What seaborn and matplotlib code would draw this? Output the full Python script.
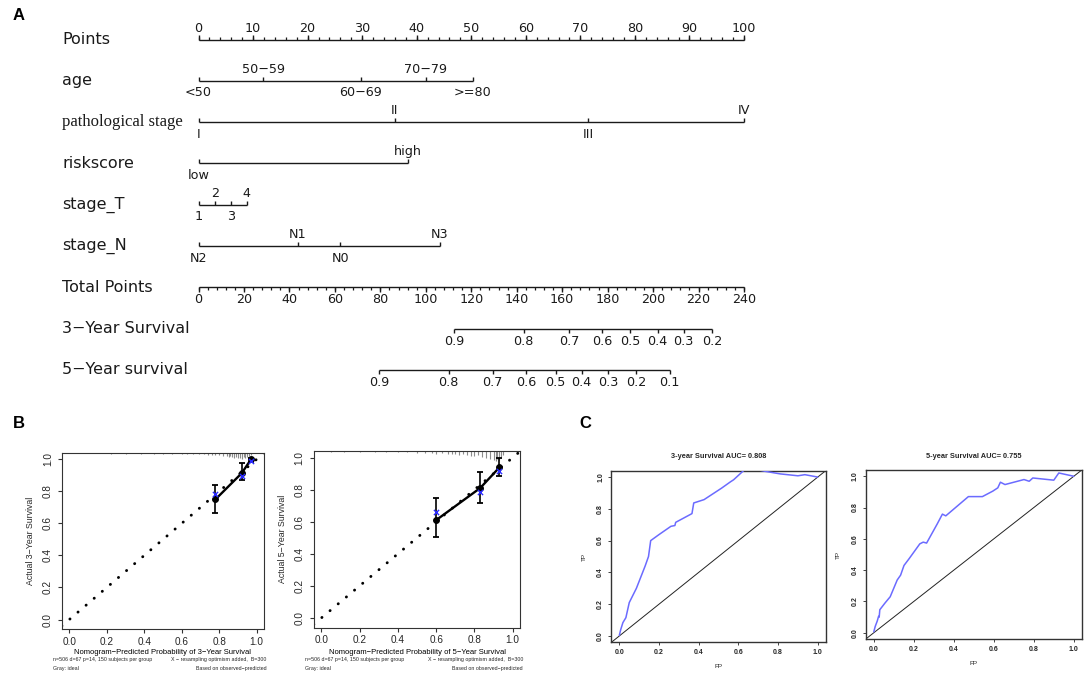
import numpy as np
import matplotlib
matplotlib.use("Agg")
import matplotlib.pyplot as plt
from matplotlib import font_manager
from matplotlib.transforms import blended_transform_factory
import seaborn as sns

sns.set_theme(style="white")
plt.rcParams['font.family'] = ['DejaVu Sans']
plt.rcParams['axes.unicode_minus'] = True

_names = {f.name for f in font_manager.fontManager.ttflist}
SANS = 'Liberation Sans' if 'Liberation Sans' in _names else 'DejaVu Sans'
NARROW = 'Liberation Sans Narrow' if 'Liberation Sans Narrow' in _names else SANS
SERIF = 'Liberation Serif' if 'Liberation Serif' in _names else 'DejaVu Serif'
NARROW_SCALE = 1.0 if NARROW != SANS else 0.84

# ======================= DATA =======================
# Panel A : nomogram (positions in "Points" units, 0-100)
row_names = ["Points", "age", "pathological stage", "riskscore", "stage_T",
             "stage_N", "Total Points", "3−Year Survival", "5−Year survival"]
points_ticks = [0, 10, 20, 30, 40, 50, 60, 70, 80, 90, 100]
points_minor_step = 2
age_levels = ["<50", "50−59", "60−69", "70−79", ">=80"]
age_points = [0, 11.9, 29.7, 41.7, 50.3]
stage_levels = ["I", "II", "III", "IV"]
stage_points = [0, 36.0, 71.4, 100]
risk_levels = ["low", "high"]
risk_points = [0, 38.4]
t_levels = ["1", "2", "3", "4"]
t_points = [0, 3.0, 5.9, 8.8]
n_levels = ["N2", "N1", "N0", "N3"]
n_points = [0, 18.2, 26.0, 44.2]
total_ticks = [0, 20, 40, 60, 80, 100, 120, 140, 160, 180, 200, 220, 240]
total_minor_step = 4
total_max = 240
surv3_labels = ["0.9", "0.8", "0.7", "0.6", "0.5", "0.4", "0.3", "0.2"]
surv3_total = [112.5, 143, 163, 177.5, 190, 202, 213.5, 226]
surv5_labels = ["0.9", "0.8", "0.7", "0.6", "0.5", "0.4", "0.3", "0.2", "0.1"]
surv5_total = [79.6, 110, 129.4, 144.3, 157.2, 168.6, 180.2, 192.4, 207.3]

# Panel B : calibration curves
cal3_pred = [0.78, 0.92, 0.97]
cal3_obs = [0.75, 0.913, 1.0]
cal3_lo = [0.665, 0.87, 0.985]
cal3_hi = [0.84, 0.975, 1.01]
cal3_corr = [0.782, 0.893, 0.99]
cal5_pred = [0.60, 0.83, 0.93]
cal5_obs = [0.61, 0.81, 0.938]
cal5_lo = [0.507, 0.718, 0.887]
cal5_hi = [0.749, 0.907, 1.0]
cal5_corr = [0.66, 0.783, 0.913]
ideal_line = [0.0, 1.0]
rug3_x = [0.22, 0.30, 0.38, 0.45, 0.50, 0.55, 0.60, 0.63, 0.66, 0.69, 0.72, 0.74,
          0.76, 0.78, 0.80, 0.82, 0.84, 0.85, 0.86, 0.87, 0.88, 0.89, 0.90, 0.91,
          0.92, 0.93, 0.94, 0.95, 0.96, 0.97]
rug3_h = [0.005, 0.005, 0.005, 0.006, 0.006, 0.007, 0.008, 0.009, 0.009, 0.010,
          0.010, 0.012, 0.013, 0.014, 0.016, 0.018, 0.020, 0.026, 0.022, 0.028,
          0.032, 0.026, 0.036, 0.030, 0.038, 0.028, 0.033, 0.024, 0.019, 0.013]
rug5_x = [0.05, 0.12, 0.20, 0.28, 0.34, 0.40, 0.45, 0.50, 0.54, 0.58, 0.60, 0.63,
          0.66, 0.68, 0.70, 0.72, 0.74, 0.76, 0.78, 0.80, 0.82, 0.84, 0.86, 0.88,
          0.90, 0.91, 0.92, 0.93, 0.94, 0.95]
rug5_h = [0.005, 0.005, 0.005, 0.006, 0.006, 0.007, 0.008, 0.010, 0.012, 0.014,
          0.016, 0.014, 0.019, 0.017, 0.021, 0.024, 0.019, 0.026, 0.030, 0.034,
          0.028, 0.038, 0.044, 0.050, 0.054, 0.060, 0.048, 0.056, 0.040, 0.024]

# Panel C : ROC curves
roc3_fp = [0.0, 0.007, 0.018, 0.033, 0.05, 0.086, 0.13, 0.147, 0.158, 0.2, 0.26,
           0.28, 0.284, 0.366, 0.375, 0.427, 0.515, 0.56, 0.576, 0.63, 0.70, 0.74,
           0.81, 0.9, 0.935, 1.0]
roc3_tp = [0.004, 0.04, 0.084, 0.115, 0.21, 0.30, 0.44, 0.50, 0.60, 0.638, 0.69,
           0.695, 0.715, 0.77, 0.837, 0.858, 0.93, 0.97, 0.983, 1.045, 1.045, 1.035,
           1.02, 1.008, 1.015, 1.0]
roc5_fp = [0.0, 0.007, 0.017, 0.024, 0.027, 0.03, 0.056, 0.082, 0.117, 0.134, 0.151,
           0.177, 0.23, 0.247, 0.264, 0.317, 0.343, 0.36, 0.473, 0.543, 0.595, 0.62,
           0.633, 0.656, 0.751, 0.777, 0.795, 0.9, 0.925, 1.0]
roc5_tp = [0.006, 0.04, 0.074, 0.105, 0.1, 0.147, 0.19, 0.23, 0.337, 0.368, 0.43,
           0.474, 0.568, 0.579, 0.573, 0.695, 0.758, 0.747, 0.87, 0.87, 0.905, 0.926,
           0.962, 0.947, 0.979, 0.968, 0.989, 0.975, 1.021, 1.0]
auc3 = 0.808
auc5 = 0.755
axis_ticks = [0.0, 0.2, 0.4, 0.6, 0.8, 1.0]

# ======================= FIGURE =======================
W, H = 1084, 676
fig = plt.figure(figsize=(W / 100, H / 100), dpi=100)
fig.patch.set_facecolor('white')

# ---------- Panel A ----------
PX0, PXU = 198.5, 5.455          # pixel of 0 points, pixels per point
axA = fig.add_axes([0, 0, 1, 1])
axA.set_xlim(-PX0 / PXU, (W - PX0) / PXU)
axA.set_ylim(H, 0)
axA.axis('off')
lblT = blended_transform_factory(fig.transFigure, axA.transData)

row_y = [39.5 + 41.3 * i for i in range(len(row_names))]
LC = '#1a1a1a'
LAB_FS = 11.5
TICK_FS = 9.2

for name, y in zip(row_names, row_y):
    if name == "pathological stage":
        axA.text(62 / W, y, name, transform=lblT, ha='left', va='center',
                 fontsize=12, family=SERIF, color=LC)
    else:
        axA.text(62 / W, y, name, transform=lblT, ha='left', va='center',
                 fontsize=LAB_FS, color=LC)


def scale_line(y, xs):
    axA.plot([min(xs), max(xs)], [y, y], color=LC, lw=1.0, solid_capstyle='butt')


# Points row
y = row_y[0]
scale_line(y, points_ticks)
minor = np.arange(points_ticks[0], points_ticks[-1] + 0.01, points_minor_step)
axA.vlines(minor, y - 3, y, color=LC, lw=0.9)
axA.vlines(points_ticks, y - 5, y, color=LC, lw=1.0)
for v in points_ticks:
    axA.text(v, y - 11.5, str(v), ha='center', va='center', fontsize=TICK_FS, color=LC)

# categorical rows
for (levels, pts), y in zip([(age_levels, age_points), (stage_levels, stage_points),
                             (risk_levels, risk_points), (t_levels, t_points),
                             (n_levels, n_points)], row_y[1:6]):
    scale_line(y, pts)
    axA.vlines(pts, y - 4, y, color=LC, lw=1.0)
    for i, (lab, p) in enumerate(zip(levels, pts)):
        dy = 12 if i % 2 == 0 else -11.5
        axA.text(p, y + dy, lab, ha='center', va='center', fontsize=TICK_FS, color=LC)

# Total points row
y = row_y[6]
k = 100 / total_max
tt = [t * k for t in total_ticks]
scale_line(y, tt)
minor = np.arange(0, total_max + 0.01, total_minor_step) * k
axA.vlines(minor, y, y + 3, color=LC, lw=0.9)
axA.vlines(tt, y, y + 5, color=LC, lw=1.0)
for v, p in zip(total_ticks, tt):
    axA.text(p, y + 12, str(v), ha='center', va='center', fontsize=TICK_FS, color=LC)

# survival rows
for (labs, tots), y in zip([(surv3_labels, surv3_total), (surv5_labels, surv5_total)],
                           row_y[7:9]):
    pp = [t * k for t in tots]
    scale_line(y, pp)
    axA.vlines(pp, y, y + 4, color=LC, lw=1.0)
    for lab, p in zip(labs, pp):
        axA.text(p, y + 13, lab, ha='center', va='center', fontsize=TICK_FS, color=LC)

# panel letters
for letter, (x, yy) in zip("ABC", [(13, 16), (13, 423), (579, 423)]):
    fig.text(x / W, 1 - yy / H, letter, ha='left', va='center', fontsize=12,
             fontweight='bold', family=SANS, color='black')


# ---------- helpers ----------
def px_axes(l, r, t, b):
    return fig.add_axes([l / W, 1 - b / H, (r - l) / W, (b - t) / H])


def style_box(ax, lw=0.8):
    for s in ax.spines.values():
        s.set_visible(True)
        s.set_color('#333333')
        s.set_linewidth(lw)


# ---------- Panel B ----------
def calib(box, pred, obs, lo, hi, corr, rx, rh, yr):
    l, r, t, b = box
    ax = px_axes(l, r, t, b)
    ax.set_facecolor('white')
    x0, x1, y0, y1 = -0.04, 1.04, -0.0608, 1.0408
    ax.set_xlim(x0, x1)
    ax.set_ylim(y0, y1)
    ax.axline((ideal_line[0], ideal_line[0]), (ideal_line[1], ideal_line[1]),
              color='black', lw=2.1, linestyle=(0, (0.05, 3.6)),
              dash_capstyle='round', zorder=2)
    ax.vlines(rx, y1 - np.array(rh), y1, color='#8c8c8c', lw=0.8, zorder=1)
    pred = np.array(pred); obs = np.array(obs)
    ax.errorbar(pred, obs, yerr=[obs - np.array(lo), np.array(hi) - obs], fmt='none',
                ecolor='black', elinewidth=1.2, capsize=2, capthick=1.3, zorder=3)
    sns.lineplot(x=pred, y=obs, ax=ax, color='black', lw=1.7, marker='o',
                 markersize=4.2, markeredgecolor='black', zorder=4)
    sns.scatterplot(x=pred, y=corr, ax=ax, marker='x', color='#2a2aff', s=14,
                    linewidth=1.0, zorder=5)
    ax.set_xticks(axis_ticks)
    ax.set_xticklabels([f"{v:.1f}" for v in axis_ticks], family=SANS, fontsize=7.2)
    ax.set_yticks(axis_ticks)
    ax.set_yticklabels([f"{v:.1f}" for v in axis_ticks], family=SANS, fontsize=7.2,
                       rotation=90, va='center')
    ax.tick_params(axis='both', direction='out', length=3, width=0.8, color='#333333',
                   bottom=True, left=True, pad=2.5)
    ax.tick_params(axis='y', pad=3.5)
    ax.set_xlabel(""); ax.set_ylabel("")
    style_box(ax)
    w, h = r - l, b - t
    ax.text(0.5, (b - 652) / h, f"Nomogram−Predicted Probability of {yr}−Year Survival",
            transform=ax.transAxes, ha='center', va='center',
            fontsize=6.5 * NARROW_SCALE, family=NARROW, color='black')
    ax.text(-31 / w, 0.5, f"Actual {yr}−Year Survival", transform=ax.transAxes,
            ha='center', va='center', rotation=90, fontsize=6.3, family=SANS)
    fs = 4.5 * NARROW_SCALE
    ax.text(-9 / w, (b - 660) / h, "n=506 d=67 p=14, 150 subjects per group",
            transform=ax.transAxes, ha='left', va='center', fontsize=fs, family=NARROW)
    ax.text(1 + 2.5 / w, (b - 660) / h, "X − resampling optimism added,  B=300",
            transform=ax.transAxes, ha='right', va='center', fontsize=fs, family=NARROW)
    ax.text(-9 / w, (b - 668.7) / h, "Gray: ideal",
            transform=ax.transAxes, ha='left', va='center', fontsize=fs, family=NARROW)
    ax.text(1 + 2.5 / w, (b - 668.7) / h, "Based on observed−predicted",
            transform=ax.transAxes, ha='right', va='center', fontsize=fs, family=NARROW)
    return ax


calib((61.8, 264.2, 452.7, 629.3), cal3_pred, cal3_obs, cal3_lo, cal3_hi, cal3_corr,
      rug3_x, rug3_h, 3)
calib((313.7, 520.4, 451.0, 627.7), cal5_pred, cal5_obs, cal5_lo, cal5_hi, cal5_corr,
      rug5_x, rug5_h, 5)


# ---------- Panel C ----------
def roc(box, fp, tp, title, fp_y):
    l, r, t, b = box
    ax = px_axes(l, r, t, b)
    ax.set_facecolor('white')
    ax.set_xlim(-0.04, 1.04)
    ax.set_ylim(-0.04, 1.04)
    ax.axline((ideal_line[0], ideal_line[0]), (ideal_line[1], ideal_line[1]),
              color='#222222', lw=0.7, zorder=2)
    sns.lineplot(x=fp, y=tp, ax=ax, color='#6b6bff', lw=1.1, sort=False,
                 estimator=None, zorder=3)
    ax.set_xticks(axis_ticks)
    ax.set_xticklabels([f"{v:.1f}" for v in axis_ticks], family=SANS, fontsize=5,
                       fontweight='bold')
    ax.set_yticks(axis_ticks)
    ax.set_yticklabels([f"{v:.1f}" for v in axis_ticks], family=SANS, fontsize=5,
                       fontweight='bold', rotation=90, va='center')
    ax.tick_params(axis='both', direction='out', length=2, width=0.7, color='#444444',
                   bottom=True, left=True, pad=2.8)
    ax.tick_params(axis='y', pad=3.2)
    ax.set_xlabel(""); ax.set_ylabel("")
    style_box(ax, lw=1.0)
    w, h = r - l, b - t
    ax.text(0.5, (b - (t - 14)) / h, title, transform=ax.transAxes, ha='center',
            va='center', fontsize=5.3, fontweight='bold', family=SANS)
    ax.text(0.5, (b - fp_y) / h, "FP", transform=ax.transAxes, ha='center',
            va='center', fontsize=4.6, family=SANS)
    ax.text(-27 / w, 0.5, "TP", transform=ax.transAxes, ha='center', va='center',
            rotation=90, fontsize=4.6, family=SANS)
    return ax


roc((611.4, 825.7, 470.7, 642.3), roc3_fp, roc3_tp,
    f"3-year Survival AUC= {auc3:.3f}", 666.7)
roc((865.8, 1081.8, 470.0, 639.0), roc5_fp, roc5_tp,
    f"5-year Survival AUC= {auc5:.3f}", 663.3)

fig.savefig("out.png", dpi=100, facecolor='white')
